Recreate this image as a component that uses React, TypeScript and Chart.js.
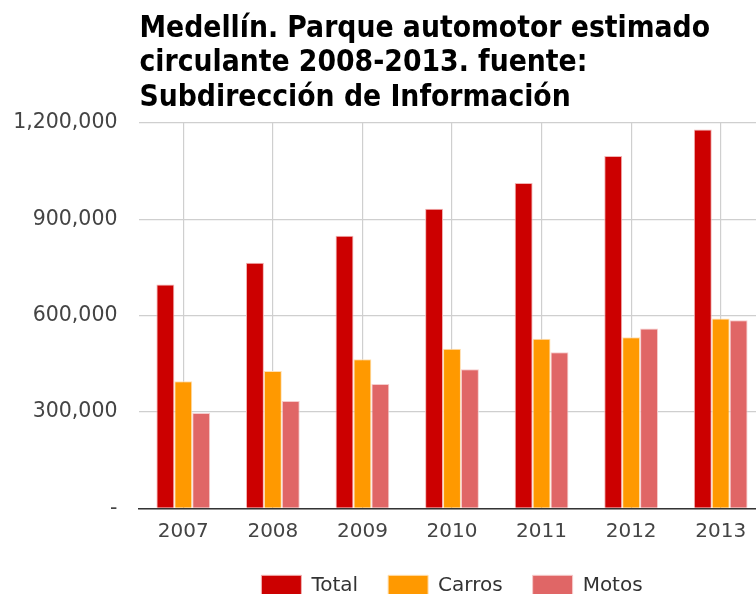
import React, { useEffect, useRef } from 'react';
import { Chart, registerables } from 'chart.js';

Chart.register(...registerables);

const categories = ['2007', '2008', '2009', '2010', '2011', '2012', '2013'];
const totalValues = [697000, 765000, 849000, 933000, 1013000, 1097000, 1180000];
const carrosValues = [396000, 428000, 464000, 497000, 528000, 533000, 591000];
const motosValues = [297000, 334000, 387000, 433000, 486000, 560000, 586000];
const titleLines = [
  'Medellín. Parque automotor estimado',
  'circulante 2008-2013. fuente:',
  'Subdirección de Información',
];
const yTicks = [0, 300000, 600000, 900000, 1200000];

const CANVAS_W = 780;
const CANVAS_H = 620;

export default function App() {
  const ref = useRef<HTMLCanvasElement>(null);

  useEffect(() => {
    if (!ref.current) return;
    const titlePlugin = {
      id: 'leftTitle',
      afterDraw(chart: any) {
        const ctx = chart.ctx;
        ctx.save();
        ctx.font = 'bold 29.7px "DejaVu Sans Condensed", "DejaVu Sans", sans-serif';
        ctx.fillStyle = '#000';
        ctx.textAlign = 'left';
        ctx.textBaseline = 'alphabetic';
        const baselines = [37, 71, 105.5];
        titleLines.forEach((t, i) => ctx.fillText(t, chart.chartArea.left + 1, baselines[i]));
        ctx.restore();
      },
    };
    const chart = new Chart(ref.current, {
      type: 'bar',
      data: {
        labels: categories,
        datasets: [
          { label: 'Total', data: totalValues, backgroundColor: '#cc0000', borderColor: '#f2b3b3', borderWidth: 1 },
          { label: 'Carros', data: carrosValues, backgroundColor: '#ff9900', borderColor: '#ffe0b3', borderWidth: 1 },
          { label: 'Motos', data: motosValues, backgroundColor: '#e06666', borderColor: '#f6cccc', borderWidth: 1 },
        ],
      },
      options: {
        responsive: false,
        animation: false,
        layout: { padding: { top: 123, left: 0, right: 14.5, bottom: 14.7 } },
        datasets: { bar: { categoryPercentage: 0.6, barPercentage: 1 } },
        scales: {
          x: {
            grid: { display: true, offset: false, color: '#cfcfcf', lineWidth: 1.2, drawTicks: false },
            border: { display: true, color: '#333', width: 1.5 },
            ticks: { color: '#444', font: { family: '"DejaVu Sans", sans-serif', size: 20 }, padding: 11 },
            afterFit(scale: any) { scale.height = 37; },
          },
          y: {
            min: 0,
            max: 1200000,
            afterBuildTicks(scale: any) { scale.ticks = yTicks.map((v) => ({ value: v })); },
            grid: { color: '#cfcfcf', lineWidth: 1.2, drawTicks: false },
            border: { display: false },
            ticks: {
              color: '#444',
              font: { family: '"DejaVu Sans", sans-serif', size: 20.5 },
              padding: 21,
              callback: (v: any) => (Number(v) === 0 ? '-' : Number(v).toLocaleString('en-US')),
            },
            afterFit(scale: any) { scale.width = 138.5; },
          },
        },
        plugins: {
          title: { display: false },
          tooltip: { enabled: false },
          legend: {
            position: 'bottom',
            fullSize: false,
            labels: {
              boxWidth: 40,
              boxHeight: 20,
              padding: 30,
              color: '#333',
              font: { family: '"DejaVu Sans", sans-serif', size: 20 },
            },
          },
        },
      },
      plugins: [titlePlugin],
    } as any);
    return () => chart.destroy();
  }, []);

  return (
    <div style={{ position: 'fixed', left: 0, top: 0, width: 756, height: 594, overflow: 'hidden', background: '#fff' }}>
      <canvas ref={ref} width={CANVAS_W} height={CANVAS_H} style={{ display: 'block' }} />
    </div>
  );
}
